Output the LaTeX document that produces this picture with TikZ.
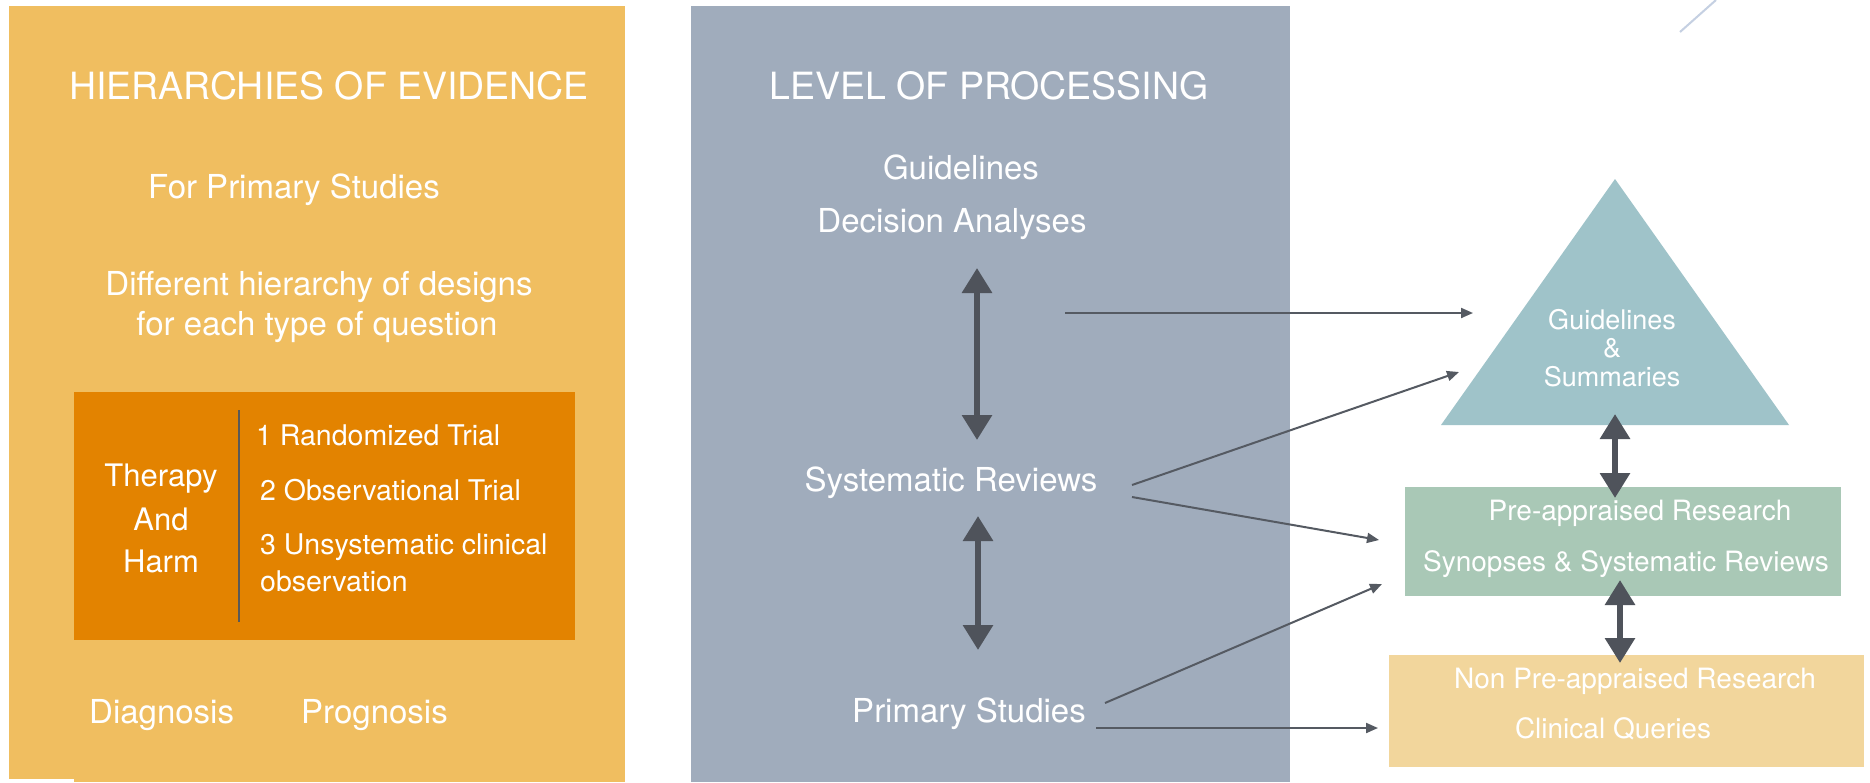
\documentclass[tikz,border=0pt]{standalone}
\usepackage{fontspec}
\setmainfont{TeX Gyre Heros}
\usetikzlibrary{arrows.meta}
\definecolor{orangebg}{HTML}{F0BE60}
\definecolor{orangedk}{HTML}{E38300}
\definecolor{graybg}{HTML}{A0ACBC}
\definecolor{tribg}{HTML}{9FC3C9}
\definecolor{greenbg}{HTML}{A9C8B6}
\definecolor{yellowbg}{HTML}{F2D69C}
\definecolor{arrowgray}{HTML}{4F535B}
\definecolor{thingray}{HTML}{555A62}
\definecolor{faintblue}{HTML}{C5D0E2}
\begin{document}
\begin{tikzpicture}[x=1pt,y=-1pt,
  txt/.style={inner sep=0pt, text=white, anchor=base},
  ttl/.style={txt, font=\fontsize{37.5}{42}\selectfont},
  big/.style={txt, font=\fontsize{33}{40}\selectfont},
  mid/.style={txt, font=\fontsize{31}{38}\selectfont},
  sml/.style={txt, font=\fontsize{28.5}{34}\selectfont},
  tiny/.style={txt, font=\fontsize{28}{32}\selectfont},
  trit/.style={txt, font=\fontsize{27}{32}\selectfont},
  bigarrow/.style={draw=arrowgray, line width=6pt,
    {Triangle[width=29pt,length=25pt]}-{Triangle[width=29pt,length=25pt]}},
  thinarrow/.style={draw=thingray, line width=2pt,
    -{Triangle[width=10pt,length=12pt]}}]
\useasboundingbox (0,0) rectangle (1870,782);
\fill[white] (0,0) rectangle (1870,782);
% panels
\fill[orangebg] (9,6) rectangle (625,779);
\fill[orangebg] (74,700) rectangle (625,782);
\fill[graybg] (691,6) rectangle (1290,782);
\fill[orangedk] (74,392) rectangle (575,640);
\draw[draw=black!65, line width=2pt] (239,410) -- (239,622);
\fill[tribg] (1615,179) -- (1789,425) -- (1441,425) -- cycle;
\fill[greenbg] (1405,487) rectangle (1841,596);
\fill[yellowbg] (1389,655) rectangle (1864,767);
% faint line top right
\draw[faintblue, line width=2pt] (1680,32) -- (1716,0);
% left panel texts
\node[ttl] (hier) at (329,99) {HIERARCHIES OF EVIDENCE};
\node[big] (forps) at (294,198) {For Primary Studies};
\node[big] (diff1) at (319,295) {Different hierarchy of designs};
\node[big] (diff2) at (317,335) {for each type of question};
\node[mid] (ther) at (161,486) {Therapy};
\node[mid] (and) at (161,530) {And};
\node[mid] (harm) at (161,572) {Harm};
\node[sml, anchor=base west] (r1) at (256,445) {1 Randomized Trial};
\node[sml, anchor=base west] (r2) at (260,500) {2 Observational Trial};
\node[sml, anchor=base west] (r3) at (260,554) {3 Unsystematic clinical};
\node[sml, anchor=base west] (r4) at (260,591) {observation};
\node[big, anchor=base west] (diag) at (89,723) {Diagnosis};
\node[big, anchor=base west] (prog) at (301,723) {Prognosis};
% middle panel texts
\node[ttl] (lev) at (989,99) {LEVEL OF PROCESSING};
\node[big] (guid) at (961,179) {Guidelines};
\node[big] (deci) at (952,232) {Decision Analyses};
\node[big] (sysr) at (951,491) {Systematic Reviews};
\node[big] (prim) at (969,722) {Primary Studies};
% right side texts
\node[trit] (tg) at (1612,329) {Guidelines};
\node[trit] (ta) at (1612,357) {\&};
\node[trit] (ts) at (1612,386) {Summaries};
\node[tiny] (gp) at (1640,520) {Pre-appraised Research};
\node[tiny] (gs) at (1626,571) {Synopses \& Systematic Reviews};
\node[tiny] (yn) at (1635,688) {Non Pre-appraised Research};
\node[tiny] (yc) at (1613,738) {Clinical Queries};
% coordinates for arrows
\coordinate (a1s) at (977,268);
\coordinate (a1e) at (977,440);
\coordinate (a2s) at (978,516);
\coordinate (a2e) at (978,650);
\coordinate (a3s) at (1615,414);
\coordinate (a3e) at (1615,498);
\coordinate (a4s) at (1620,580);
\coordinate (a4e) at (1620,663);
\coordinate (h1s) at (1065,313);
\coordinate (h1e) at (1473,313);
\coordinate (s1s) at (1132,485);
\coordinate (s1e) at (1459,372);
\coordinate (s2s) at (1132,497);
\coordinate (s2e) at (1379,540);
\coordinate (p1s) at (1105,703);
\coordinate (p1e) at (1382,584);
\coordinate (p2s) at (1096,728);
\coordinate (p2e) at (1378,728);
% double arrows
\draw[bigarrow] (a1s) -- (a1e);
\draw[bigarrow] (a2s) -- (a2e);
\draw[bigarrow] (a3s) -- (a3e);
\draw[bigarrow] (a4s) -- (a4e);
% thin arrows
\draw[thinarrow] (h1s) -- (h1e);
\draw[thinarrow] (s1s) -- (s1e);
\draw[thinarrow] (s2s) -- (s2e);
\draw[thinarrow] (p1s) -- (p1e);
\draw[thinarrow] (p2s) -- (p2e);
\end{tikzpicture}
\end{document}
